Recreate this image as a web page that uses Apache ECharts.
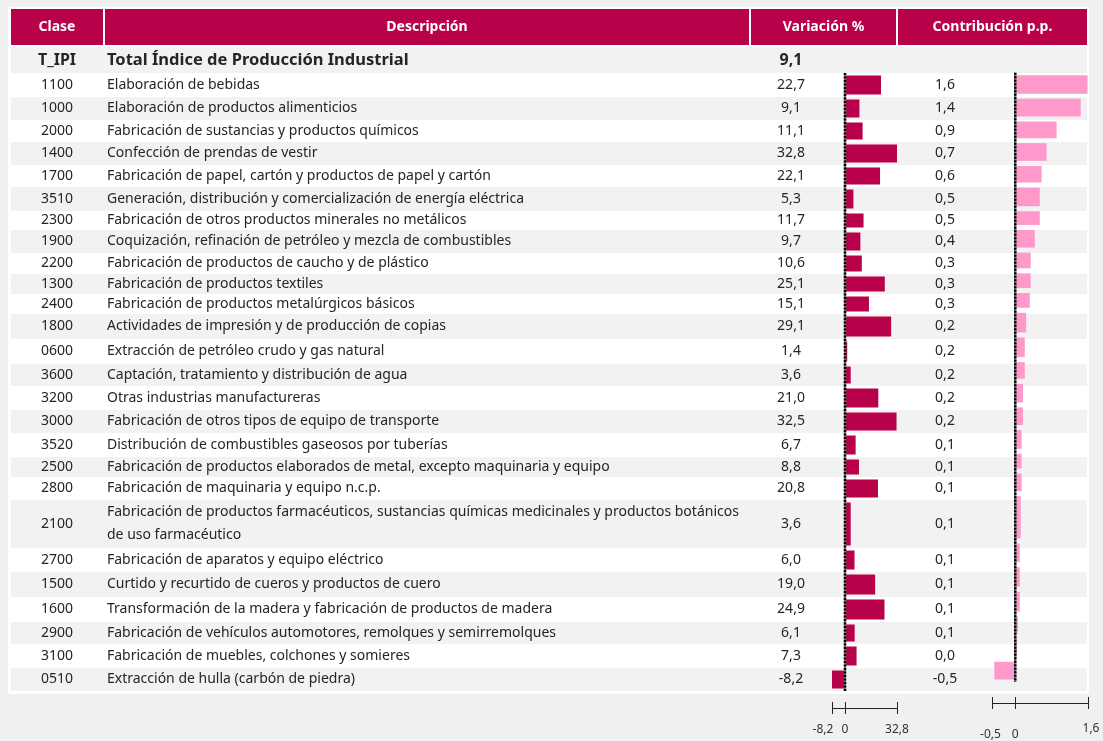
<!DOCTYPE html>
<html>
<head>
<meta charset="utf-8">
<title>Variación IPI por clase</title>
<script src="https://cdn.jsdelivr.net/npm/echarts@6/dist/echarts.min.js"></script>
<style>
    body { margin: 0; background: #f0f0f0; }
    #ipi-chart { width: 1103px; height: 741px; }
</style>
</head>
<body>
<div id="ipi-chart"></div>
<script>
// fila total
var totalClase = 'T_IPI';
var totalDescripcion = 'Total Índice de Producción Industrial';
var totalVariacion = 9.1;

var clases = ['1100', '1000', '2000', '1400', '1700', '3510', '2300', '1900', '2200', '1300',
    '2400', '1800', '0600', '3600', '3200', '3000', '3520', '2500', '2800', '2100',
    '2700', '1500', '1600', '2900', '3100', '0510'];

var descripciones = [
    'Elaboración de bebidas',
    'Elaboración de productos alimenticios',
    'Fabricación de sustancias y productos químicos',
    'Confección de prendas de vestir',
    'Fabricación de papel, cartón y productos de papel y cartón',
    'Generación, distribución y comercialización de energía eléctrica',
    'Fabricación de otros productos minerales no metálicos',
    'Coquización, refinación de petróleo y mezcla de combustibles',
    'Fabricación de productos de caucho y de plástico',
    'Fabricación de productos textiles',
    'Fabricación de productos metalúrgicos básicos',
    'Actividades de impresión y de producción de copias',
    'Extracción de petróleo crudo y gas natural',
    'Captación, tratamiento y distribución de agua',
    'Otras industrias manufactureras',
    'Fabricación de otros tipos de equipo de transporte',
    'Distribución de combustibles gaseosos por tuberías',
    'Fabricación de productos elaborados de metal, excepto maquinaria y equipo',
    'Fabricación de maquinaria y equipo n.c.p.',
    'Fabricación de productos farmacéuticos, sustancias químicas medicinales y productos botánicos\nde uso farmacéutico',
    'Fabricación de aparatos y equipo eléctrico',
    'Curtido y recurtido de cueros y productos de cuero',
    'Transformación de la madera y fabricación de productos de madera',
    'Fabricación de vehículos automotores, remolques y semirremolques',
    'Fabricación de muebles, colchones y somieres',
    'Extracción de hulla (carbón de piedra)'
];

var variacion = [22.7, 9.1, 11.1, 32.8, 22.1, 5.3, 11.7, 9.7, 10.6, 25.1,
    15.1, 29.1, 1.4, 3.6, 21.0, 32.5, 6.7, 8.8, 20.8, 3.6,
    6.0, 19.0, 24.9, 6.1, 7.3, -8.2];

var contribucion = [1.59, 1.44, 0.91, 0.69, 0.58, 0.54, 0.54, 0.43, 0.34, 0.34,
    0.32, 0.24, 0.21, 0.21, 0.17, 0.17, 0.14, 0.14, 0.14, 0.12,
    0.10, 0.10, 0.10, 0.06, 0.04, -0.46];

var variacionTicks = [-8.2, 0, 32.8];
var contribucionTicks = [-0.5, 0, 1.6];

// alto de cada fila de la tabla (la primera es el total)
var rowHeights = [26, 24, 23, 22, 23, 22, 24, 19, 23, 21, 20, 20, 25, 25, 22, 24, 23, 24, 20, 23,
    48, 24, 25, 25, 22, 24, 23];

var FONT = '"Noto Sans", "Open Sans", sans-serif';
var CRIMSON = '#b8004b';
var PINK = '#ff99cc';
var TEXT = '#252525';
var TABLE_W = 1076;

var rowStart = [];
var acc = 0;
for (var i = 0; i < rowHeights.length; i++) {
    rowStart.push(acc);
    acc += rowHeights[i];
}
var tableH = acc;

function fmt(v) {
    if (v === 0) return '0';
    return v.toFixed(1).replace('.', ',');
}

var allClases = [totalClase].concat(clases);
var allDesc = [totalDescripcion].concat(descripciones);
var allVar = [totalVariacion].concat(variacion);

var chart = echarts.init(document.getElementById('ipi-chart'));

//filas: fondo alterno + columnas de texto
function renderRow(params, api) {
    var i = params.dataIndex;
    var p0 = api.coord([0, rowStart[i]]);
    var p1 = api.coord([TABLE_W, rowStart[i] + rowHeights[i]]);
    var yMid = (p0[1] + p1[1]) / 2;
    var isTotal = i === 0;
    var font = isTotal ? 'bold 16px ' + FONT : '14px ' + FONT;
    var children = [{
        type: 'rect',
        shape: { x: p0[0], y: p0[1], width: p1[0] - p0[0], height: p1[1] - p0[1] },
        style: { fill: i % 2 === 0 ? '#f2f2f2' : '#ffffff' }
    }, {
        type: 'text',
        x: api.coord([46, 0])[0], y: yMid,
        style: { text: allClases[i], font: font, fill: TEXT, align: 'center', verticalAlign: 'middle' }
    }, {
        type: 'text',
        x: api.coord([96, 0])[0], y: yMid,
        style: { text: allDesc[i], font: isTotal ? 'bold 16.5px ' + FONT : font, fill: TEXT,
            align: 'left', verticalAlign: 'middle', lineHeight: 23 }
    }, {
        type: 'text',
        x: api.coord([780, 0])[0], y: yMid,
        style: { text: fmt(allVar[i]), font: font, fill: TEXT, align: 'center', verticalAlign: 'middle' }
    }];
    if (!isTotal) {
        children.push({
            type: 'text',
            x: api.coord([934, 0])[0], y: yMid,
            style: { text: fmt(contribucion[i - 1]), font: font, fill: TEXT, align: 'center', verticalAlign: 'middle' }
        });
    }
    return { type: 'group', children: children };
}

function renderBar(color) {
    return function (params, api) {
        var a = api.coord([0, api.value(1)]);
        var b = api.coord([api.value(0), api.value(2)]);
        return {
            type: 'rect',
            shape: { x: Math.min(a[0], b[0]), y: a[1] + 2.5, width: Math.abs(b[0] - a[0]), height: b[1] - a[1] - 5 },
            style: { fill: color }
        };
    };
}

function renderZero(params, api) {
    var a = api.coord([0, rowStart[1]]);
    var b = api.coord([0, tableH]);
    return {
        type: 'group',
        children: [{
            type: 'line',
            shape: { x1: a[0], y1: a[1], x2: b[0], y2: b[1] },
            style: { stroke: '#777', lineWidth: 2.4 }
        }, {
            type: 'line',
            shape: { x1: a[0], y1: a[1], x2: b[0], y2: b[1] },
            style: { stroke: '#000', lineWidth: 2.4, lineDash: [2, 1.5] }
        }]
    };
}

// linea horizontal de la escala inferior (de min a max del eje)
function renderScaleLine(ticks, offset) {
    return function (params, api) {
        var a = api.coord([ticks[0], tableH]);
        var b = api.coord([ticks[ticks.length - 1], tableH]);
        var y = Math.round(a[1] + offset) + 0.5;
        return {
            type: 'line',
            shape: { x1: a[0], y1: y, x2: b[0], y2: y },
            style: { stroke: '#222', lineWidth: 1 }
        };
    };
}

function barData(values) {
    var out = [];
    for (var i = 0; i < values.length; i++) {
        out.push([values[i], rowStart[i + 1], rowStart[i + 1] + rowHeights[i + 1]]);
    }
    return out;
}

var labelRich = {
    n: { fontFamily: FONT, fontSize: 12, color: '#333' },
    l: { fontFamily: FONT, fontSize: 12, color: '#333', padding: [0, 18, 0, 0] },
    d: { fontFamily: FONT, fontSize: 12, color: '#333', padding: [6, 0, 0, 0] },
    dl: { fontFamily: FONT, fontSize: 12, color: '#333', padding: [6, 4, 0, 0] },
    r: { fontFamily: FONT, fontSize: 12, color: '#333', padding: [0, 0, 0, 6] }
};

function scaleAxes(gridIndex, min, max, ticks, offset, margin, richFor) {
    return [{
        gridIndex: gridIndex, type: 'value', min: min, max: max, position: 'bottom', offset: offset,
        splitLine: { show: false },
        axisLine: { show: false, onZero: false },
        axisTick: { show: true, customValues: ticks, length: 6, lineStyle: { color: '#222' } },
        axisLabel: {
            customValues: ticks, margin: margin, color: '#333', fontFamily: FONT, fontSize: 12,
            formatter: function (v) { return '{' + richFor(v) + '|' + fmt(v) + '}'; },
            rich: labelRich
        }
    }, {
        gridIndex: gridIndex, type: 'value', min: min, max: max, position: 'bottom', offset: offset,
        splitLine: { show: false },
        axisLine: { show: false, onZero: false },
        axisTick: { show: true, inside: true, customValues: ticks, length: 6, lineStyle: { color: '#222' } },
        axisLabel: { show: false }
    }];
}

function headerCell(x, w, label) {
    return [{
        type: 'rect', shape: { x: x, y: 9, width: w, height: 36 }, style: { fill: CRIMSON }
    }, {
        type: 'text', x: x + w / 2, y: 27,
        style: { text: label, font: 'bold 14px ' + FONT, fill: '#fff', align: 'center', verticalAlign: 'middle' }
    }];
}

var graphics = [{
    type: 'rect', z: -10, shape: { x: 8, y: 7, width: 1081, height: 687 }, style: { fill: '#ffffff' }
}];
graphics = graphics.concat(headerCell(11, 92, 'Clase'))
    .concat(headerCell(105, 644, 'Descripción'))
    .concat(headerCell(751, 145, 'Variación %'))
    .concat(headerCell(898, 189, 'Contribución p.p.'));

var VAR_OFFSET = 17;
var CON_OFFSET = 21;

var xAxes = [{
    gridIndex: 0, type: 'value', min: 0, max: TABLE_W, show: false
}];
xAxes = xAxes.concat(scaleAxes(1, -8.2, 32.8, variacionTicks, VAR_OFFSET, 16, function (v) {
    return v < 0 ? 'l' : 'n';
}));
xAxes = xAxes.concat(scaleAxes(2, -0.5, 1.6, contribucionTicks, CON_OFFSET, 20, function (v) {
    if (v < 0) return 'dl';
    if (v === 0) return 'd';
    return 'r';
}));

var yAxes = [0, 1, 2].map(function (g) {
    return { gridIndex: g, type: 'value', min: 0, max: tableH, inverse: true, show: false };
});

chart.setOption({
    backgroundColor: '#f0f0f0',
    animation: false,
    graphic: graphics,
    grid: [
        { left: 11, top: 47, width: TABLE_W, height: tableH },
        { left: 832, top: 47, width: 65, height: tableH },
        { left: 992.5, top: 47, width: 95.5, height: tableH }
    ],
    xAxis: xAxes,
    yAxis: yAxes,
    series: [{
        name: 'tabla',
        type: 'custom',
        xAxisIndex: 0, yAxisIndex: 0,
        z: 1,
        renderItem: renderRow,
        data: allClases.map(function (c, i) { return [i]; }),
        silent: true
    }, {
        name: 'Variación %',
        type: 'custom',
        xAxisIndex: 1, yAxisIndex: 1,
        z: 3,
        renderItem: renderBar(CRIMSON),
        encode: { x: 0, y: [1, 2] },
        data: barData(variacion)
    }, {
        name: 'Contribución p.p.',
        type: 'custom',
        xAxisIndex: 3, yAxisIndex: 2,
        z: 3,
        renderItem: renderBar(PINK),
        encode: { x: 0, y: [1, 2] },
        data: barData(contribucion)
    }, {
        name: 'cero var',
        type: 'custom',
        xAxisIndex: 1, yAxisIndex: 1,
        z: 4,
        renderItem: renderZero,
        data: [[0]],
        silent: true
    }, {
        name: 'cero contrib',
        type: 'custom',
        xAxisIndex: 3, yAxisIndex: 2,
        z: 4,
        renderItem: renderZero,
        data: [[0]],
        silent: true
    }, {
        name: 'escala var',
        type: 'custom',
        xAxisIndex: 1, yAxisIndex: 1,
        clip: false,
        renderItem: renderScaleLine(variacionTicks, VAR_OFFSET),
        data: [[0]],
        silent: true
    }, {
        name: 'escala contrib',
        type: 'custom',
        xAxisIndex: 3, yAxisIndex: 2,
        clip: false,
        renderItem: renderScaleLine(contribucionTicks, CON_OFFSET),
        data: [[0]],
        silent: true
    }]
});
</script>
</body>
</html>
